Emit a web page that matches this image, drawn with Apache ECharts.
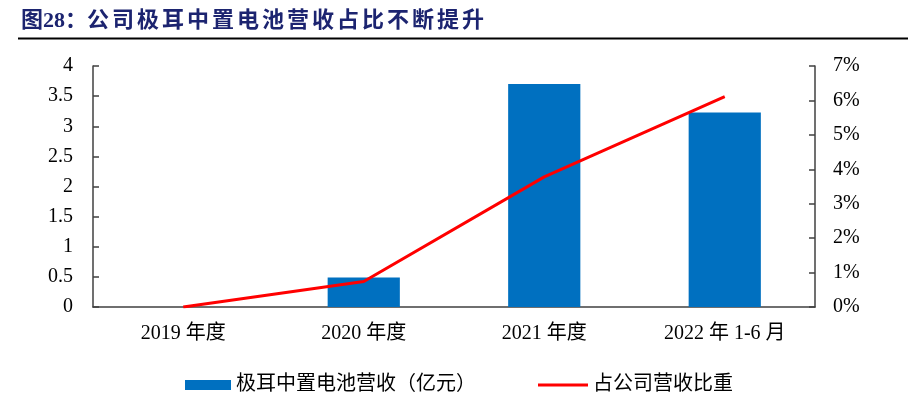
<!DOCTYPE html>
<html>
<head>
<meta charset="utf-8">
<script src="https://cdn.jsdelivr.net/npm/echarts@6/dist/echarts.min.js"></script>
<style>
html,body{margin:0;padding:0;background:#fff;}
#wrap{position:relative;width:908px;height:399px;}
#c{width:908px;height:399px;}
#title{position:absolute;left:21px;top:5px;font-family:"Liberation Serif","Noto Sans CJK SC",serif;font-weight:bold;font-size:22px;line-height:30px;color:#1C2470;white-space:nowrap;}
#title .cn{letter-spacing:3px;}
</style>
</head>
<body>
<div id="wrap">
<div id="c"></div>
<div id="title"></div>
</div>
<script>
const categories = ['2019 年度', '2020 年度', '2021 年度', '2022 年 1-6 月'];
const revenue = [0, 0.49, 3.70, 3.23];
const sharePct = [0, 0.74, 3.78, 6.11];
const leftTicks = { min: 0, max: 4, interval: 0.5 };
const rightTicks = { min: 0, max: 7, interval: 1 };
const seriesNames = ['极耳中置电池营收（亿元）', '占公司营收比重'];
const titleLabel = '图28：';
const titleText = '公司极耳中置电池营收占比不断提升';

const t = document.getElementById('title');
const s1 = document.createElement('span'); s1.textContent = titleLabel;
const s2 = document.createElement('span'); s2.className = 'cn'; s2.textContent = titleText;
t.appendChild(s1); t.appendChild(s2);

const serif = '"Liberation Serif", "Noto Sans CJK SC", serif';
const axisColor = '#404040';
const chart = echarts.init(document.getElementById('c'), null, { renderer: 'canvas' });
chart.setOption({
  animation: false,
  backgroundColor: '#fff',
  graphic: [{
    type: 'line', shape: { x1: 18, y1: 38.5, x2: 908, y2: 38.5 },
    style: { stroke: '#000', lineWidth: 2 }
  }],
  legend: [{
    data: [{ name: seriesNames[0], icon: 'rect' }], left: 180, top: 370,
    itemWidth: 46, itemHeight: 10,
    textStyle: { fontFamily: serif, fontSize: 20, color: '#000' }
  }, {
    data: [{ name: seriesNames[1], icon: 'rect' }], left: 533, top: 370,
    itemWidth: 50, itemHeight: 3,
    textStyle: { fontFamily: serif, fontSize: 20, color: '#000' }
  }],
  grid: { left: 93, right: 93, top: 66, bottom: 92 },
  xAxis: {
    type: 'category', data: categories,
    axisLine: { lineStyle: { color: axisColor, width: 1.5 } },
    axisTick: { inside: true, length: 6, lineStyle: { color: axisColor, width: 1.5 } },
    axisLabel: { fontFamily: serif, fontSize: 20, color: '#000', margin: 17 }
  },
  yAxis: [{
    type: 'value', min: leftTicks.min, max: leftTicks.max, interval: leftTicks.interval,
    axisLine: { show: true, lineStyle: { color: axisColor, width: 1.5 } },
    axisTick: { show: true, inside: true, length: 6, lineStyle: { color: axisColor, width: 1.5 } },
    splitLine: { show: false },
    axisLabel: { fontFamily: serif, fontSize: 20, color: '#000', margin: 20 }
  }, {
    type: 'value', min: rightTicks.min, max: rightTicks.max, interval: rightTicks.interval,
    position: 'right',
    axisLine: { show: true, lineStyle: { color: axisColor, width: 1.5 } },
    axisTick: { show: true, inside: true, length: 6, lineStyle: { color: axisColor, width: 1.5 } },
    splitLine: { show: false },
    axisLabel: { fontFamily: serif, fontSize: 20, color: '#000', margin: 18, formatter: '{value}%' }
  }],
  series: [{
    name: seriesNames[0], type: 'bar', data: revenue, barWidth: '40%', yAxisIndex: 0,
    itemStyle: { color: '#0070C0' }
  }, {
    name: seriesNames[1], type: 'line', data: sharePct, yAxisIndex: 1,
    showSymbol: false, symbol: 'none',
    lineStyle: { color: '#FF0000', width: 3 }, itemStyle: { color: '#FF0000' }
  }]
});
</script>
</body>
</html>
